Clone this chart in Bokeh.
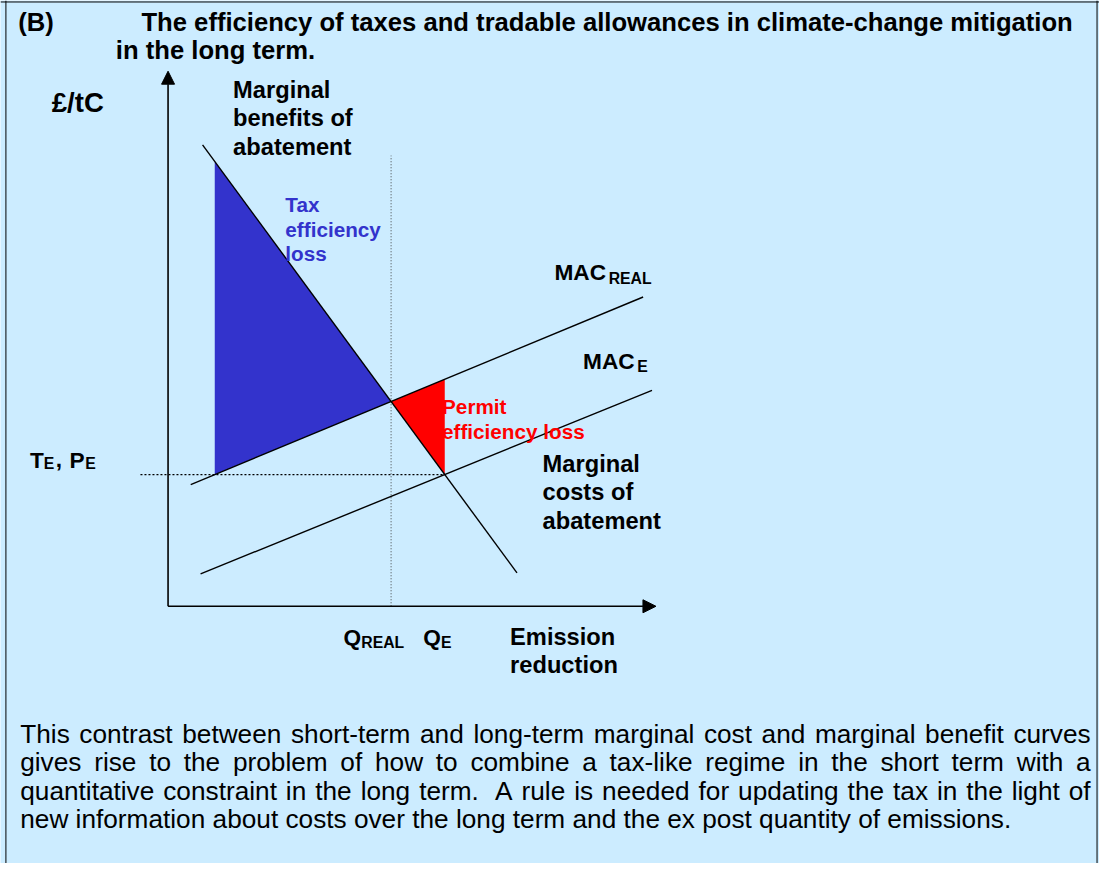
import re
from bokeh.plotting import figure
from bokeh.models import Range1d, Arrow, NormalHead, Span
from bokeh.core.properties import value
from bokeh.embed import file_html
from bokeh.resources import INLINE

# ---------------- data (abstract units: quantity q, price p) ----------------
mb_q = [0.70, 7.08]          # marginal benefits of abatement
mb_p = [9.40, 0.68]
mac_real_q = [0.46, 9.64]    # MAC_REAL
mac_real_p = [2.48, 6.30]
mac_e_q = [0.66, 9.82]       # MAC_E
mac_e_p = [0.66, 4.40]
axis_q_max = 9.9
axis_p_max = 10.9
price_guide_q_start = -0.56
q_guide_p_top = 9.18

title_lines = ["The efficiency of taxes and tradable allowances in climate-change mitigation",
               "in the long term."]
para_lines = [
    "This contrast between short-term and long-term marginal cost and marginal benefit curves",
    "gives rise to the problem of how to combine a tax-like regime in the short term with a",
    "quantitative constraint in the long term.  A rule is needed for updating the tax in the light of",
    "new information about costs over the long term and the ex post quantity of emissions.",
]

# ---------------- derived geometry ----------------
def coef(qs, ps):
    m = (ps[1] - ps[0]) / (qs[1] - qs[0])
    return m, ps[0] - m * qs[0]

def intersect(c1, c2):
    q = (c2[1] - c1[1]) / (c1[0] - c2[0])
    return q, c1[0] * q + c1[1]

mb = coef(mb_q, mb_p)
mr = coef(mac_real_q, mac_real_p)
me = coef(mac_e_q, mac_e_p)
q_E, T_E = intersect(mb, me)
q_R, p_R = intersect(mb, mr)
q_tax = (T_E - mr[1]) / mr[0]

# ---------------- layout (reference pixel -> data) ----------------
REF_W, REF_H = 1115.0, 879.0
W, H = 1099, 863
SX, SY = W / REF_W, H / REF_H
FS = SX
OX, OY, S = 170.0, 617.0, 50.0
def X(px): return (px - OX) / S
def Y(py): return (OY - py) / S

BG = "#CCECFF"
p = figure(width=W, height=H, x_range=Range1d(X(0), X(REF_W)), y_range=Range1d(Y(REF_H), Y(0)),
           output_backend="svg", toolbar_location=None, x_axis_type=None, y_axis_type=None,
           min_border=0, background_fill_color=BG, border_fill_color=BG, outline_line_color=None)

# box border
p.add_layout(Span(location=X(5.5), dimension="height", line_color="black", line_width=1))
p.add_layout(Span(location=Y(1.5), dimension="width", line_color="black", line_width=1))
p.add_layout(Span(location=X(1112.5), dimension="height", line_color="black", line_width=1))

# shaded areas
p.patch([q_tax, q_tax, q_R], [mb[0] * q_tax + mb[1], T_E, p_R], fill_color="#3333CC", line_color=None)
p.patch([q_R, q_E, q_E], [p_R, mr[0] * q_E + mr[1], T_E], fill_color="#FF0000", line_color=None)

# guides
p.line([price_guide_q_start, q_E], [T_E, T_E], line_color="black", line_width=1.2, line_dash="2 2")
p.line([q_R, q_R], [0, q_guide_p_top], line_color="#444444", line_width=1, line_dash="1 2")

# curves
for qs, ps in [(mb_q, mb_p), (mac_real_q, mac_real_p), (mac_e_q, mac_e_p)]:
    p.line(qs, ps, line_color="black", line_width=1.4)

# axes
p.add_layout(Arrow(end=NormalHead(size=13, fill_color="black", line_color="black"),
                   x_start=0, y_start=0, x_end=0, y_end=axis_p_max, line_width=1.6))
p.add_layout(Arrow(end=NormalHead(size=13, fill_color="black", line_color="black"),
                   x_start=0, y_start=0, x_end=axis_q_max, y_end=0, line_width=1.6))

FONT = value("Liberation Sans")

def txt(xp, yp, s, size, color="black", bold=True):
    p.text(x=[X(xp)], y=[Y(yp)], text=[s], text_font=FONT,
           text_font_style="bold" if bold else "normal", text_font_size=f"{size * FS:.2f}px",
           text_color=color, text_baseline="middle", text_align="left")

# title
txt(18, 22, "(B)", 26)
txt(143, 22, title_lines[0], 26)
txt(117, 50, title_lines[1], 26)

# axis labels
txt(52, 104, "£/tC", 28)
for i, s in enumerate(["Marginal", "benefits of", "abatement"]):
    txt(236, 91 + 29 * i, s, 24)
for i, s in enumerate(["Tax", "efficiency", "loss"]):
    txt(289, 208 + 25 * i, s, 21, color="#3333CC")
txt(562, 277, "MAC", 23)
txt(617, 283, "REAL", 16)
txt(591, 367, "MAC", 23)
txt(646, 373, "E", 16)
for i, s in enumerate(["Permit", "efficiency loss"]):
    txt(448, 414 + 25 * i, s, 21, color="#FF0000")
txt(30, 468, "T", 23)
txt(44, 472, "E", 16)
txt(56, 468, ",", 23)
txt(70, 468, "P", 23)
txt(86, 472, "E", 16)
for i, s in enumerate(["Marginal", "costs  of", "abatement"]):
    txt(550, 472 + 29 * i, s, 24)
txt(348, 648, "Q", 23)
txt(366, 654, "REAL", 16)
txt(429, 648, "Q", 23)
txt(447, 654, "E", 16)
txt(517, 648, "Emission", 24)
txt(517, 677, "reduction", 24)

# justified paragraph (Arial / Liberation Sans metrics), laid out in reference pixels
AW = {'a':556,'b':556,'c':500,'d':556,'e':556,'f':278,'g':556,'h':556,'i':222,'j':222,'k':500,
      'l':222,'m':833,'n':556,'o':556,'p':556,'q':556,'r':333,'s':500,'t':278,'u':556,'v':500,
      'w':722,'x':500,'y':500,'z':500,'T':611,'A':667,'-':333,'.':278,',':278,' ':278}
PS = 26.6
def wid(s): return sum(AW.get(c, 556) for c in s) * PS / 1000.0

LEFT, RIGHT = 20.0, 1106.0
for li, line in enumerate(para_lines):
    yp = 747 + 29 * li
    toks = re.split(r"( +)", line)
    justify = li < len(para_lines) - 1
    natural = sum(wid(t) for t in toks)
    ngaps = sum(1 for t in toks if t and t.strip() == "")
    extra = (RIGHT - LEFT - natural) / ngaps if (justify and ngaps) else 0.0
    xs, ws = [], []
    cur = LEFT
    for t in toks:
        if not t:
            continue
        if t.strip() == "":
            cur += wid(t) + extra
        else:
            xs.append(X(cur)); ws.append(t)
            cur += wid(t)
    p.text(x=xs, y=[Y(yp)] * len(xs), text=ws, text_font=FONT, text_font_size=f"{PS * FS:.2f}px",
           text_color="black", text_baseline="middle", text_align="left")

open("out.html", "w").write(file_html(p, INLINE))
